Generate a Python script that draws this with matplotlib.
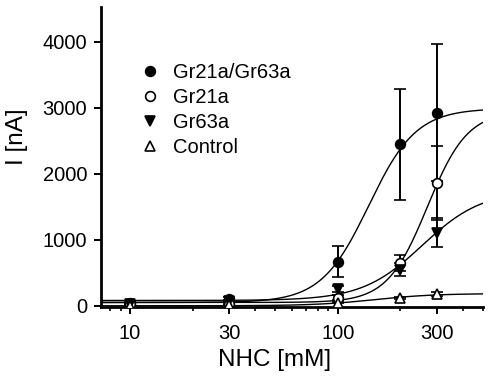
import numpy as np
import matplotlib
matplotlib.use('Agg')
import matplotlib.pyplot as plt
from matplotlib.lines import Line2D
from matplotlib.ticker import LogLocator, NullFormatter, FixedLocator

plt.rcParams['font.family'] = ['Liberation Sans', 'DejaVu Sans']

# NHC concentrations (mM)
conc = [10, 30, 100, 200, 300]
labels = ['Gr21a/Gr63a', 'Gr21a', 'Gr63a', 'Control']

# mean current (nA) and error
i_both = [40, 105, 667, 2444, 2924]
e_both = [20, 30, 235, 835, 1036]
i_21a = [20, 20, 125, 650, 1864]
e_21a = [10, 10, 40, 120, 560]
i_63a = [30, 70, 250, 545, 1110]
e_63a = [10, 20, 45, 100, 216]
i_ctrl = [0, 10, 45, 120, 180]
e_ctrl = [5, 5, 10, 20, 25]

# Hill fit parameters
fit_base = [50, 50, 80, 0]
fit_top = [2990, 2950, 1750, 185]
fit_ec50 = [141, 270, 255, 150]
fit_hill = [3.8, 4.5, 3.0, 3.0]


def hill(x, b, top, k, n):
    return b + (top - b) * x ** n / (k ** n + x ** n)


fig = plt.figure(figsize=(5, 3.8), dpi=100)
ax = fig.add_axes([0.202, 0.191, 0.764, 0.791])

xs = np.logspace(np.log10(7.25), np.log10(500), 400)
means = [i_both, i_21a, i_63a, i_ctrl]
errs = [e_both, e_21a, e_63a, e_ctrl]
markers = ['o', 'o', 'v', '^']
faces = ['black', 'white', 'black', 'white']

for k in range(4):
    ax.plot(xs, hill(xs, fit_base[k], fit_top[k], fit_ec50[k], fit_hill[k]),
            color='black', lw=1.0, zorder=2)
for k in range(4):
    ax.errorbar(conc, means[k], yerr=errs[k], fmt=markers[k], mfc=faces[k],
                mec='black', mew=1.2, ms=7, ecolor='black', elinewidth=1.4,
                capsize=4, capthick=1.4, zorder=3)

ax.set_xscale('log')
ax.set_xlim(7.25, 500)
ax.set_ylim(-25, 4530)
ax.xaxis.set_major_locator(FixedLocator([10, 30, 100, 300]))
ax.set_xticklabels(['10', '30', '100', '300'])
ax.xaxis.set_minor_locator(LogLocator(base=10, subs=np.arange(1, 10)))
ax.xaxis.set_minor_formatter(NullFormatter())
ax.set_yticks([0, 1000, 2000, 3000, 4000])

for s in ['top', 'right']:
    ax.spines[s].set_visible(False)
for s in ['left', 'bottom']:
    ax.spines[s].set_linewidth(2)
ax.tick_params(which='major', direction='out', length=5, width=1.4, labelsize=14.5)
ax.tick_params(axis='x', which='major', pad=7)
ax.tick_params(axis='y', which='major', pad=5)
ax.tick_params(which='minor', direction='out', length=3, width=1.2)

ax.set_xlabel('NHC [mM]', fontsize=17.5)
ax.set_ylabel('I [nA]', fontsize=17.5)
ax.xaxis.label.set_verticalalignment('center')
ax.yaxis.label.set_verticalalignment('center')
ax.xaxis.set_label_coords(0.455, -0.175)
ax.yaxis.set_label_coords(-0.22, 0.567)

handles = [Line2D([], [], ls='none', marker=markers[k], mfc=faces[k], mec='black',
                  mew=1.2, ms=7) for k in range(4)]
ax.legend(handles, labels, loc='upper left', bbox_to_anchor=(0.107, 0.813),
          frameon=False, fontsize=14.5, handlelength=0.8, handletextpad=0.75,
          labelspacing=0.29, borderpad=0, borderaxespad=0)

fig.savefig('out.png', dpi=100)
